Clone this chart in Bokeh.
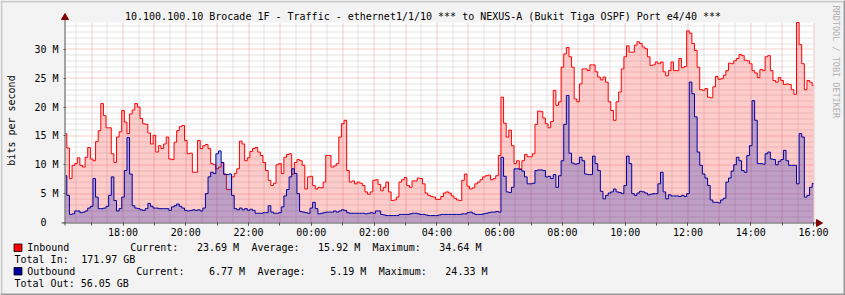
import re
import numpy as np
from bokeh.plotting import figure
from bokeh.models import Range1d, FixedTicker, DatetimeTickFormatter, DatetimeAxis, LinearAxis
from bokeh.core.properties import value
from bokeh.embed import file_html
from bokeh.resources import INLINE

# ---------------- data ----------------
TITLE = "10.100.100.10 Brocade 1F - Traffic - ethernet1/1/10 *** to NEXUS-A (Bukit Tiga OSPF) Port e4/40 ***"
Y_LABEL = "bits per second"
WATERMARK = "RRDTOOL / TOBI OETIKER"
START = "2024-01-01T16:10"   # first 5-minute sample
STEP_MIN = 5

# Inbound, Mbit/s, one value every 5 minutes (16:10 .. 16:00 next day)
inbound = [
    15.4, 12.9, 7.6, 9.9, 10.2, 11.2, 9.9, 9.6, 11.3, 13.0,
    11.0, 10.7, 14.0, 15.9, 20.6, 18.5, 16.4, 16.4, 11.9, 10.4,
    14.8, 15.7, 19.4, 17.4, 15.4, 18.8, 19.5, 20.6, 20.0, 18.0,
    17.1, 17.0, 15.5, 13.6, 15.1, 12.2, 13.3, 12.8, 13.6, 14.8,
    11.0, 10.9, 13.9, 15.9, 16.6, 16.8, 14.2, 11.9, 12.0, 8.7,
    8.7, 14.2, 12.8, 13.3, 13.5, 12.8, 10.2, 10.0, 9.3, 9.6,
    10.4, 8.3, 5.7, 5.7, 7.9, 8.5, 9.3, 14.1, 13.6, 10.7,
    11.2, 12.3, 12.8, 13.0, 12.2, 11.6, 10.4, 9.0, 7.3, 6.4,
    6.8, 10.0, 10.2, 8.5, 11.3, 11.8, 11.9, 8.4, 10.4, 10.9,
    10.7, 9.9, 5.8, 7.9, 8.0, 6.4, 5.8, 6.1, 6.0, 7.0,
    11.6, 11.6, 9.6, 9.8, 10.2, 14.8, 17.1, 17.7, 9.0, 7.0,
    7.2, 6.7, 7.0, 6.8, 6.4, 5.3, 4.9, 5.3, 7.3, 7.4,
    6.6, 5.5, 6.1, 7.0, 5.3, 3.8, 3.9, 4.4, 7.0, 7.4,
    7.8, 6.4, 6.1, 7.2, 7.2, 7.7, 7.6, 6.7, 5.1, 4.7,
    4.5, 4.4, 4.0, 4.0, 4.5, 5.1, 5.3, 5.1, 4.6, 4.2,
    3.9, 3.8, 7.3, 8.4, 6.3, 5.8, 6.0, 6.7, 7.0, 7.4,
    7.9, 8.1, 8.2, 7.4, 7.6, 8.1, 11.6, 21.7, 17.2, 14.8,
    16.0, 13.3, 10.2, 10.7, 9.3, 10.7, 11.8, 11.4, 11.4, 11.9,
    17.0, 19.3, 19.2, 18.1, 17.1, 16.4, 17.5, 22.9, 20.3, 20.9,
    26.9, 29.2, 30.3, 28.7, 26.9, 21.4, 20.9, 24.0, 26.6, 26.6,
    26.3, 27.3, 27.3, 26.1, 25.2, 24.7, 25.2, 24.3, 20.9, 19.4,
    17.7, 20.9, 22.6, 26.6, 28.7, 30.6, 29.5, 29.5, 30.7, 31.3,
    31.0, 30.4, 30.1, 28.7, 27.2, 27.3, 27.8, 27.5, 27.8, 26.1,
    25.4, 26.3, 27.8, 26.3, 26.3, 28.4, 26.8, 27.0, 33.2, 32.8,
    31.0, 29.8, 26.9, 23.0, 22.9, 23.2, 21.7, 21.6, 23.5, 25.3,
    24.8, 24.9, 25.5, 26.3, 27.6, 27.5, 28.0, 28.4, 29.1, 28.9,
    28.1, 28.0, 27.5, 26.3, 25.9, 25.1, 26.5, 26.3, 28.7, 28.9,
    26.3, 24.6, 24.3, 25.1, 24.6, 23.9, 24.0, 23.9, 23.0, 22.2,
    34.64, 30.8, 27.5, 23.0, 24.6, 24.3, 23.69,
]

# Outbound, Mbit/s
outbound = [
    8.1, 4.7, 1.4, 1.5, 2.0, 2.0, 1.7, 1.8, 2.0, 2.5,
    2.8, 7.6, 4.4, 2.4, 2.4, 2.5, 2.8, 4.7, 7.9, 3.8,
    2.0, 2.4, 4.4, 9.0, 14.7, 8.4, 2.9, 2.5, 2.4, 2.2,
    2.1, 2.4, 3.3, 2.8, 2.5, 2.5, 2.4, 2.4, 2.4, 2.4,
    2.1, 2.7, 2.9, 3.2, 2.8, 2.5, 2.1, 2.0, 2.1, 2.2,
    2.1, 2.2, 2.0, 2.5, 5.0, 7.9, 8.7, 8.5, 11.9, 12.4,
    10.4, 8.4, 8.3, 8.4, 4.7, 2.4, 2.2, 2.5, 2.2, 2.4,
    2.1, 2.3, 2.1, 1.6, 1.6, 1.6, 1.7, 1.7, 2.9, 1.8,
    1.6, 1.6, 1.7, 2.7, 4.6, 5.7, 7.9, 9.3, 8.5, 5.0,
    1.9, 1.8, 1.7, 1.6, 2.5, 3.5, 2.4, 1.5, 1.6, 1.7,
    1.8, 1.8, 1.8, 2.0, 1.8, 2.0, 2.2, 2.1, 1.7, 1.6,
    1.6, 1.6, 1.6, 1.6, 1.6, 1.5, 1.6, 1.7, 1.6, 2.0,
    2.0, 1.4, 1.3, 1.2, 1.2, 1.2, 1.2, 1.2, 1.4, 1.4,
    1.4, 1.4, 1.5, 1.6, 1.6, 1.5, 1.4, 1.4, 1.3, 1.2,
    1.2, 1.2, 1.2, 1.3, 1.4, 1.4, 1.4, 1.4, 1.4, 1.4,
    1.4, 1.4, 1.5, 1.5, 1.7, 1.8, 1.6, 1.4, 1.4, 1.4,
    1.5, 1.6, 1.7, 1.8, 1.8, 1.9, 1.8, 11.3, 8.0, 5.3,
    5.2, 6.1, 9.3, 9.3, 9.2, 8.9, 7.9, 6.7, 6.7, 6.8,
    9.0, 9.1, 9.1, 9.0, 7.9, 8.0, 7.6, 8.3, 6.1, 8.1,
    10.7, 17.0, 22.0, 12.0, 10.3, 10.1, 10.2, 11.3, 10.7, 8.4,
    8.3, 8.3, 11.5, 10.2, 9.0, 5.4, 4.1, 4.7, 5.1, 5.3,
    5.8, 5.3, 5.2, 5.0, 6.4, 11.5, 10.2, 5.0, 4.7, 5.1,
    5.4, 5.3, 5.1, 4.8, 4.9, 5.0, 5.0, 6.7, 8.7, 5.3,
    4.1, 4.8, 4.6, 4.6, 4.6, 4.5, 4.7, 4.5, 5.0, 24.33,
    22.3, 18.3, 12.2, 9.9, 8.4, 7.7, 6.4, 3.9, 3.5, 3.5,
    3.4, 3.9, 4.2, 7.0, 7.7, 8.9, 10.0, 11.3, 10.7, 9.0,
    8.7, 11.6, 13.3, 21.1, 17.7, 10.2, 10.2, 10.1, 11.9, 12.2,
    11.0, 10.9, 10.0, 10.6, 10.9, 12.5, 10.7, 9.9, 9.9, 9.9,
    6.7, 15.4, 14.8, 4.4, 4.7, 6.1, 6.77,
]

y_ticks = [0, 5, 10, 15, 20, 25, 30]
y_tick_labels = ["0\u00a0\u00a0", "5 M", "10 M", "15 M", "20 M", "25 M", "30 M"]
y_max = 34.64

series_names = ["Inbound", "Outbound"]
stat_current = ["23.69 M", "6.77 M"]
stat_average = ["15.92 M", "5.19 M"]
stat_maximum = ["34.64 M", "24.33 M"]
totals = ["Total In:  171.97 GB", "Total Out: 56.05 GB"]

# ---------------- styles / layout ----------------
FONT = "DejaVu Sans Mono"
BACK = "#F3F3F3"
IN_LINE = "#FF0000"
OUT_LINE = "#0000A0"
AXIS_C = "#555555"
ARROW_C = "#800000"
W, H = 845, 295
PL, PR, PT, PB = 65, 813, 22, 222   # plot area in canvas pixels
CW = 6.06                            # monospace advance used by the legend

# ---------------- time handling ----------------
MS_MIN = 60_000
HOUR = 60 * MS_MIN
step = STEP_MIN * MS_MIN
n = len(inbound)
t0 = float(np.datetime64(START, "ms").astype(np.int64))
t_end = t0 + (n - 1) * step
edges = np.concatenate([[t0], t0 + (np.arange(n - 1) + 0.5) * step, [t_end]])
xs = np.repeat(edges, 2)[1:-1]

def steps(vals):
    return np.repeat(np.asarray(vals, dtype=float), 2)

# the frame covers the whole canvas; plot area maps to PL..PR / PB..PT
PX_MS = (t_end - t0) / (PR - PL)
PX_V = y_max / (PB - PT)
def X(cx):
    return t0 + (np.asarray(cx, dtype=float) - PL) * PX_MS
def Y(cy):
    return (PB - np.asarray(cy, dtype=float)) * PX_V
def snap_x(ticks):   # put grid lines on pixel centres (crisp dotted lines)
    cx = PL + (np.asarray(ticks, dtype=float) - t0) / PX_MS
    return X(np.floor(cx) + 0.5)
def snap_y(ticks):
    cy = PB - np.asarray(ticks, dtype=float) / PX_V
    return Y(np.floor(cy) + 0.5)

day0 = float(np.datetime64(START[:10], "ms").astype(np.int64))
two_hour_ticks = [day0 + h * HOUR for h in range(18, 41, 2)]
hour_ticks = [day0 + h * HOUR for h in range(17, 41)]
half_hour_ticks = [day0 + (16.5 + h) * HOUR for h in range(24)]

p = figure(width=W, height=H, output_backend="svg", toolbar_location=None,
           x_axis_type=None, y_axis_type=None,
           x_range=Range1d(float(X(0)), float(X(W))), y_range=Range1d(float(Y(H)), float(Y(0))),
           min_border=0)
p.background_fill_color = BACK
p.border_fill_color = BACK
p.outline_line_color = None
p.grid.visible = False

# canvas shading frame
p.quad(left=[X(0), X(0)], right=[X(W), X(2)], top=[Y(0), Y(0)], bottom=[Y(2), Y(H)],
       fill_color="#CBCBCB", line_color=None)
p.quad(left=[X(0), X(W - 2)], right=[X(W), X(W)], top=[Y(H - 2), Y(0)], bottom=[Y(H), Y(H)],
       fill_color="#999999", line_color=None)

# plot canvas
p.quad(left=[t0], right=[t_end], top=[y_max], bottom=[0], fill_color="white", line_color=None)

# grid
GREY = "#C8C8C8"
RED = "#EE9A9A"
minor_y = [float(v) for v in range(1, 35) if v % 5]
hx = snap_x(half_hour_ticks)
p.segment(x0=hx, x1=hx, y0=0, y1=y_max, line_color=GREY, line_dash="1 1", line_width=1)
my = snap_y(minor_y)
p.segment(x0=t0, x1=t_end, y0=my, y1=my, line_color=GREY, line_dash="1 1", line_width=1)
gx = snap_x(hour_ticks)
p.segment(x0=gx, x1=gx, y0=0, y1=y_max, line_color=RED, line_dash="1 1", line_width=1)
gy = snap_y(y_ticks[1:])
p.segment(x0=t0, x1=t_end, y0=gy, y1=gy, line_color=RED, line_dash="1 1", line_width=1)

# data
p.varea(x=xs, y1=0, y2=steps(inbound), fill_color=IN_LINE, fill_alpha=0.2)
p.line(xs, steps(inbound), line_color=IN_LINE, line_width=1)
p.varea(x=xs, y1=0, y2=steps(outbound), fill_color="#0019B4", fill_alpha=0.25)
p.line(xs, steps(outbound), line_color=OUT_LINE, line_width=1)

# axes (fixed at the plot area's edges)
fmt = "%H:%M"
xa = DatetimeAxis(fixed_location=0.0,
                  ticker=FixedTicker(ticks=two_hour_ticks, minor_ticks=hour_ticks),
                  formatter=DatetimeTickFormatter(minutes=fmt, hourmin=fmt, hours=fmt,
                                                  days=fmt, months=fmt, years=fmt))
ya = LinearAxis(fixed_location=t0, ticker=FixedTicker(ticks=y_ticks, minor_ticks=[]))
ya.major_label_overrides = {v: s for v, s in zip(y_ticks, y_tick_labels)}
for ax in (xa, ya):
    ax.axis_line_color = None
    ax.major_tick_line_color = AXIS_C
    ax.minor_tick_line_color = AXIS_C
    ax.major_label_text_font = FONT
    ax.major_label_text_font_size = "10px"
    ax.major_label_text_color = "black"
    ax.major_tick_in = 0
    ax.minor_tick_in = 0
xa.major_tick_out = 3
xa.minor_tick_out = 3
xa.major_label_standoff = 1
ya.major_tick_out = 2
ya.minor_tick_out = 0
ya.major_label_standoff = 5
p.add_layout(xa, "below")
p.add_layout(ya, "left")

# axis lines with arrow heads
p.segment(x0=[X(64.5), X(61)], y0=[Y(225), Y(222.5)], x1=[X(64.5), X(817)], y1=[Y(18), Y(222.5)],
          line_color=AXIS_C, line_width=1)
p.scatter(x=[X(64.5)], y=[Y(17)], marker="triangle", size=7, angle=0.0,
          fill_color=ARROW_C, line_color=ARROW_C)
p.scatter(x=[X(818)], y=[Y(222.5)], marker="triangle", size=7, angle=-np.pi / 2,
          fill_color=ARROW_C, line_color=ARROW_C)

# texts
def text(cx, cy, s, size="10px", color="black", align="left", angle=0.0):
    p.text(x=[float(X(cx))], y=[float(Y(cy))], text=[s], text_font=value(FONT),
           text_font_size=value(size), text_color=color, text_align=align,
           text_baseline="middle", angle=angle)

text(W / 2, 16, TITLE, align="center")
text(11, 120, Y_LABEL, align="center", angle=np.pi / 2)
text(835, 5, WATERMARK, size="8.5px", color="#B0B0B0", angle=-np.pi / 2)

rows_y = [247, 270.5]
tot_y = [258.5, 282.5]
box_colors = [IN_LINE, OUT_LINE]
for i in range(2):
    row = (series_names[i] + " " * 10 + "Current:" + stat_current[i].rjust(10)
           + "  Average:" + stat_average[i].rjust(10)
           + "  Maximum:" + stat_maximum[i].rjust(10))
    for m in re.finditer(r"\S+(?: \S+)*", row):
        text(26.7 + m.start() * CW, rows_y[i], m.group())
    for m in re.finditer(r"\S+(?: \S+)*", totals[i]):
        text(14 + m.start() * CW, tot_y[i], m.group())
    cy = rows_y[i]
    p.quad(left=[X(13.5)], right=[X(21.5)], top=[Y(cy - 3.5)], bottom=[Y(cy + 4)],
           fill_color=box_colors[i], line_color="black", line_width=1, line_alpha=0.8)

open("out.html", "w").write(file_html(p, INLINE))
